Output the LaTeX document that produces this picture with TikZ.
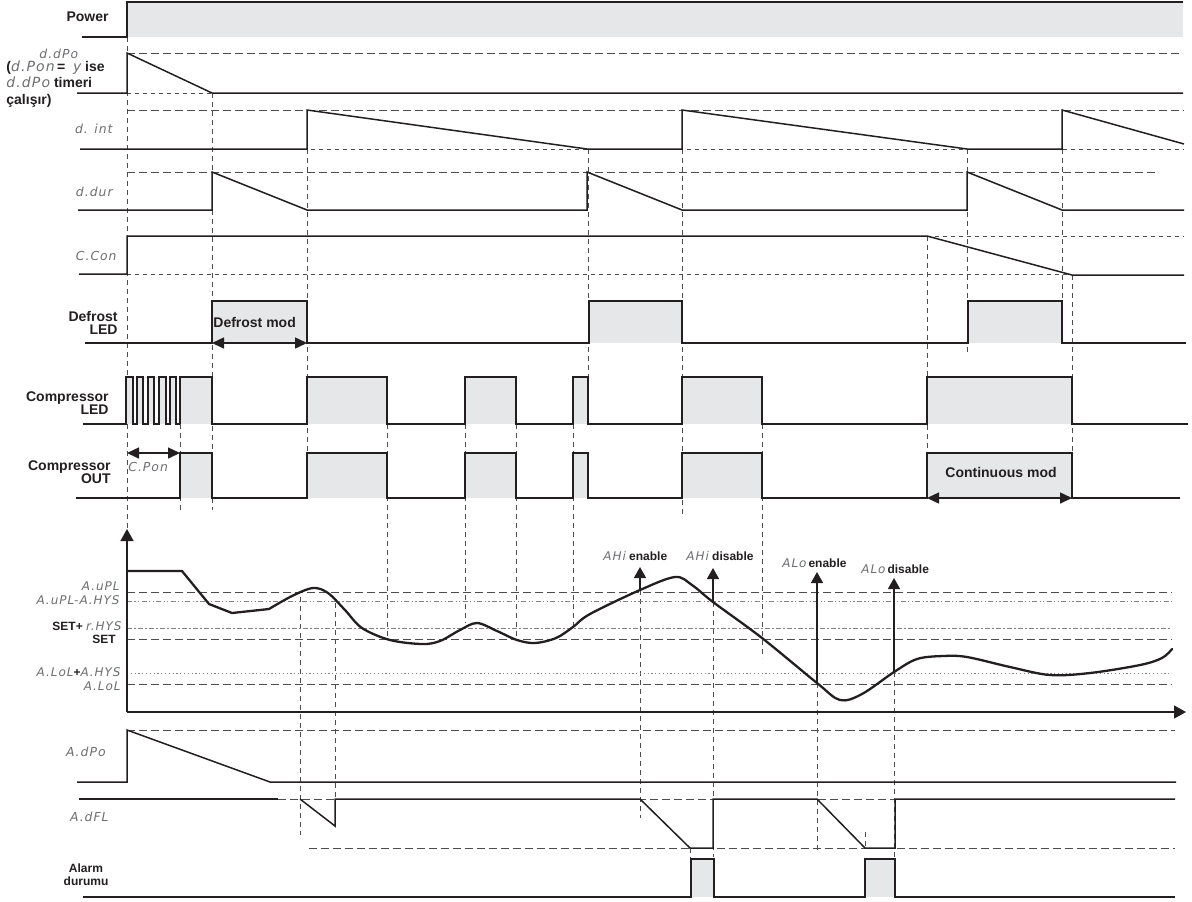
\documentclass[tikz,border=0pt]{standalone}
\usepackage{fontspec}
\setmainfont{Liberation Sans}
\newfontfamily\segfont{DejaVu Sans}[LetterSpace=8]
\usetikzlibrary{arrows.meta}
\definecolor{gf}{HTML}{E6E7E8}
\definecolor{ln}{HTML}{231F20}
\definecolor{dl}{HTML}{4D4D4F}
\definecolor{sgc}{HTML}{6D6E71}
\newcommand{\segtxt}[1]{{\segfont\mdseries\itshape\color{sgc}#1}}
\begin{document}
\begin{tikzpicture}[x=0.5pt,y=-0.5pt,
  sig/.style={line width=0.75pt,draw=ln,line join=miter},
  curve/.style={line width=1.15pt,draw=ln,line join=round,line cap=round},
  ref/.style={line width=0.5pt,draw=dl,dash pattern=on 4pt off 2pt},
  sref/.style={line width=0.5pt,draw=dl,dash pattern=on 2pt off 2pt},
  vg/.style={line width=0.45pt,draw=dl,dash pattern=on 2.5pt off 2pt},
  dashdot/.style={line width=0.45pt,draw=dl!70,dash pattern=on 2.5pt off 1.2pt on 0.6pt off 1.2pt},
  dashdotdot/.style={line width=0.45pt,draw=dl!70,dash pattern=on 2.5pt off 1.2pt on 0.6pt off 1.2pt on 0.6pt off 1.2pt},
  dotl/.style={line width=0.45pt,draw=dl!70,dash pattern=on 0.6pt off 1.3pt},
  pfill/.style={fill=gf},
  lab/.style={font=\fontsize{7}{6.8}\selectfont\bfseries,text=ln,inner sep=0pt,align=right},
  glab/.style={font=\fontsize{6}{6}\selectfont\bfseries,text=ln,inner sep=0pt},
  slab/.style={font=\fontsize{6}{6}\selectfont\bfseries,text=ln,inner sep=0pt,align=center},
  seg/.style={font=\fontsize{6.2}{6.2}\selectfont,inner sep=0pt},
  dbl/.style={line width=0.75pt,draw=ln,{Triangle[length=6pt,width=5.5pt]}-{Triangle[length=6pt,width=5.5pt]}},
  up/.style={line width=0.75pt,draw=ln,-{Triangle[length=5.5pt,width=6pt]}}
]
\useasboundingbox (0,0) rectangle (1192,901);

% ---------- vertical guide lines ----------
\draw[vg] (127,37) -- (127,528);
\draw[vg] (212,93) -- (212,510);
\draw[vg] (180,424) -- (180,510);
\draw[vg] (307,149) -- (307,453);
\draw[vg] (300,597) -- (300,835);
\draw[vg] (335,603) -- (335,827);
\draw[vg] (387,424) -- (387,639);
\draw[vg] (465,424) -- (465,623);
\draw[vg] (516,424) -- (516,639);
\draw[vg] (573,424) -- (573,627);
\draw[vg] (588,149) -- (588,424);
\draw[vg] (682,149) -- (682,515);
\draw[vg] (762,424) -- (762,658);
\draw[vg] (640,590) -- (640,818);
\draw[vg] (713,602) -- (713,857);
\draw[vg] (817,683) -- (817,852);
\draw[vg] (894,672) -- (894,860);
\draw[vg] (690,848) -- (690,860);
\draw[vg] (865,832) -- (865,848);
\draw[vg] (927,236) -- (927,498);
\draw[vg] (967,149) -- (967,353);
\draw[vg] (1062,149) -- (1062,343);
\draw[vg] (1072,275) -- (1072,498);

% ---------- Power ----------
\fill[pfill] (127,2) rectangle (1183,37);
\draw[sig] (82,37) -- (127,37) -- (127,2) -- (1183,2);
\node[lab,anchor=east] (lPower) at (109,17) {Power};

% ---------- d.dPo ----------
\draw[ref] (127,53) -- (1183,53);
\draw[sref] (127,93) -- (212,93);
\draw[sig] (77,93) -- (127,93) -- (127,53) -- (212,93) -- (1183,93);
\node[seg,anchor=west] (lddpo) at (39,54) {\segtxt{d.dPo}};
\node[lab,anchor=west,align=left] (lddpo2) at (6,84)
  {(\segtxt{d.Pon}\,= \segtxt{\;y} ise\\[1.4pt]
   \segtxt{d.dPo} timeri\\[1.4pt]
   çalışır)};

% ---------- d.int ----------
\draw[ref] (127,110) -- (1184,110);
\draw[sref] (127,149) -- (1184,149);
\draw[sig] (80,149) -- (307,149) -- (307,110) -- (587,149) -- (682,149) -- (682,110)
  -- (967,149) -- (1062,149) -- (1062,110) -- (1184,144);
\node[seg,anchor=east] (ldint) at (113,129) {\segtxt{d. int}};

% ---------- d.dur ----------
\draw[ref] (127,172) -- (1155,172);
\draw[sig] (78,210) -- (212,210) -- (212,172) -- (307,210) -- (587,210) -- (587,172)
  -- (682,210) -- (967,210) -- (967,172) -- (1062,210) -- (1184,210);
\node[seg,anchor=east] (lddur) at (113,192) {\segtxt{d.dur}};

% ---------- C.Con ----------
\draw[sref] (127,274) -- (1072,274);
\draw[sref] (927,236) -- (1184,236);
\draw[sig] (79,274) -- (127,274) -- (127,236) -- (927,236) -- (1072,275) -- (1184,275);
\node[seg,anchor=east] (lccon) at (117,256) {\segtxt{C.Con}};

% ---------- Defrost LED ----------
\fill[pfill] (212,301) rectangle (307,343);
\fill[pfill] (589,301) rectangle (682,343);
\fill[pfill] (968,301) rectangle (1062,343);
\draw[sig] (85,343) -- (212,343) -- (212,301) -- (307,301) -- (307,343) -- (589,343)
  -- (589,301) -- (682,301) -- (682,343) -- (968,343) -- (968,301) -- (1062,301)
  -- (1062,343) -- (1186,343);
\node[lab,anchor=east] (ldef) at (118,323) {Defrost\\LED};
\coordinate (dm1) at (212,343); \coordinate (dm2) at (307,343);
\draw[dbl] (dm1) -- (dm2);
\node[lab,anchor=west] (ldefmod) at (213,322) {Defrost mod};

% ---------- Compressor LED ----------
\fill[pfill] (126,377) rectangle (176,424);
\fill[pfill] (180,377) rectangle (212,424);
\fill[pfill] (307,377) rectangle (387,424);
\fill[pfill] (465,377) rectangle (516,424);
\fill[pfill] (573,377) rectangle (588,424);
\fill[pfill] (682,377) rectangle (762,424);
\fill[pfill] (927,377) rectangle (1072,424);
\fill[white] (133,378) rectangle (137,424);
\fill[white] (143,378) rectangle (148,424);
\fill[white] (154,378) rectangle (159,424);
\fill[white] (166,378) rectangle (170,424);
\fill[white] (176,378) rectangle (180,424);
\draw[sig,line width=0.6pt] (83,424) -- (126,424) -- (126,377) -- (133,377) -- (133,424)
  -- (137,424) -- (137,377) -- (143,377) -- (143,424)
  -- (148,424) -- (148,377) -- (154,377) -- (154,424)
  -- (159,424) -- (159,377) -- (166,377) -- (166,424)
  -- (170,424) -- (170,377) -- (176,377) -- (176,424) -- (180,424);
\draw[sig] (180,424) -- (180,377) -- (212,377) -- (212,424) -- (307,424) -- (307,377)
  -- (387,377) -- (387,424) -- (465,424) -- (465,377) -- (516,377) -- (516,424)
  -- (573,424) -- (573,377) -- (588,377) -- (588,424) -- (682,424) -- (682,377)
  -- (762,377) -- (762,424) -- (927,424) -- (927,377) -- (1072,377) -- (1072,424)
  -- (1188,424);
\node[lab,anchor=east] (lcled) at (109,403) {Compressor\\LED};

% ---------- Compressor OUT ----------
\fill[pfill] (180,453) rectangle (212,498);
\fill[pfill] (307,453) rectangle (387,498);
\fill[pfill] (465,453) rectangle (516,498);
\fill[pfill] (573,453) rectangle (588,498);
\fill[pfill] (682,453) rectangle (762,498);
\fill[pfill] (927,453) rectangle (1072,498);
\draw[sig] (76,498) -- (180,498) -- (180,453) -- (212,453) -- (212,498) -- (307,498) -- (307,453)
  -- (387,453) -- (387,498) -- (465,498) -- (465,453) -- (516,453) -- (516,498)
  -- (573,498) -- (573,453) -- (588,453) -- (588,498) -- (682,498) -- (682,453)
  -- (762,453) -- (762,498) -- (927,498) -- (927,453) -- (1072,453) -- (1072,498)
  -- (1180,498);
\node[lab,anchor=east] (lcout) at (111,472) {Compressor\\OUT};
\coordinate (cp1) at (127,453); \coordinate (cp2) at (180,453);
\draw[dbl] (cp1) -- (cp2);
\node[seg,anchor=west] (lcpon) at (128,467) {\segtxt{C.Pon}};
\coordinate (cm1) at (927,498); \coordinate (cm2) at (1072,498);
\draw[dbl] (cm1) -- (cm2);
\node[lab] (lcont) at (1001,472) {Continuous mod};

% ---------- Graph ----------
\draw[ref] (127,592) -- (1172,592);
\draw[dashdotdot] (127,601) -- (1172,601);
\draw[dashdot] (127,628) -- (1172,628);
\draw[ref] (127,639) -- (1172,639);
\draw[dotl] (127,673) -- (1172,673);
\draw[ref] (127,684) -- (1172,684);
\coordinate (org) at (127,712);
\coordinate (yend) at (127,529);
\coordinate (xend) at (1186,712);
\draw[sig,-{Triangle[length=6pt,width=6.5pt]}] (org) -- (yend);
\draw[sig,-{Triangle[length=6pt,width=6.5pt]}] (org) -- (xend);

\draw[curve] (127,571) -- (182,571) -- (209,604) -- (232,613) -- (269,609)
  plot[smooth,tension=0.55] coordinates {(269,609) (292,596) (313,588) (328,593) (345,610)
  (362,628) (390,640) (422,644) (440,641) (460,630) (477,623) (497,631) (517,640)
  (535,643) (556,638) (573,627) (590,614) (640,590) (675,577) (692,585) (713,602)
  (762,638) (817,683) (840,700) (862,694) (894,672) (917,659) (943,656) (967,657)
  (1010,667) (1050,675) (1090,673) (1140,665) (1162,658) (1172,649)};

\node[glab,anchor=east] (luPL) at (120,586) {\segtxt{A.uPL}};
\node[glab,anchor=east] (luPLh) at (120,600) {\segtxt{A.uPL-A.HYS}};
\node[glab,anchor=east] (lsetr) at (122,626) {SET+ \segtxt{r.HYS}};
\node[glab,anchor=east] (lset) at (116,639) {SET};
\node[glab,anchor=east] (lLoLh) at (121,672) {\segtxt{A.LoL}+\segtxt{A.HYS}};
\node[glab,anchor=east] (lLoL) at (121,686) {\segtxt{A.LoL}};

% enable / disable arrows
\coordinate (ahe0) at (640,590); \coordinate (ahe1) at (640,567);
\coordinate (ahd0) at (713,602); \coordinate (ahd1) at (713,568);
\coordinate (ale0) at (817,683); \coordinate (ale1) at (817,572);
\coordinate (ald0) at (894,672); \coordinate (ald1) at (894,578);
\draw[up] (ahe0) -- (ahe1);
\draw[up] (ahd0) -- (ahd1);
\draw[up] (ale0) -- (ale1);
\draw[up] (ald0) -- (ald1);
\node[glab,anchor=west] (lahe) at (603,556) {\segtxt{AHi}\ enable};
\node[glab,anchor=west] (lahd) at (686,556) {\segtxt{AHi}\ disable};
\node[glab,anchor=west] (lale) at (782,563) {\segtxt{ALo}\,enable};
\node[glab,anchor=west] (lald) at (861,569) {\segtxt{ALo}\,disable};

% ---------- A.dPo ----------
\draw[ref] (127,730) -- (1175,730);
\draw[sig] (77,782) -- (127,782) -- (127,730) -- (270,782) -- (1176,782);
\node[seg,anchor=east] (ladpo) at (106,752) {\segtxt{A.dPo}};

% ---------- A.dFL ----------
\draw[ref] (278,799) -- (1175,799);
\draw[ref] (309,848) -- (1175,848);
\draw[sig] (79,799) -- (278,799);
\draw[sig] (300,799) -- (335,826) -- (335,799) -- (640,799) -- (690,848) -- (713,848)
  -- (713,799) -- (817,799) -- (865,848) -- (895,848) -- (895,799) -- (1175,799);
\node[seg,anchor=east] (ladfl) at (109,817) {\segtxt{A.dFL}};

% ---------- Alarm durumu ----------
\fill[pfill] (691,859) rectangle (714,897);
\fill[pfill] (865,859) rectangle (895,897);
\draw[sig] (83,897) -- (691,897) -- (691,859) -- (714,859) -- (714,897) -- (865,897)
  -- (865,859) -- (895,859) -- (895,897) -- (1175,897);
\node[slab] (lalarm) at (86,875) {Alarm\\[0.5pt]durumu};
\end{tikzpicture}
\end{document}
